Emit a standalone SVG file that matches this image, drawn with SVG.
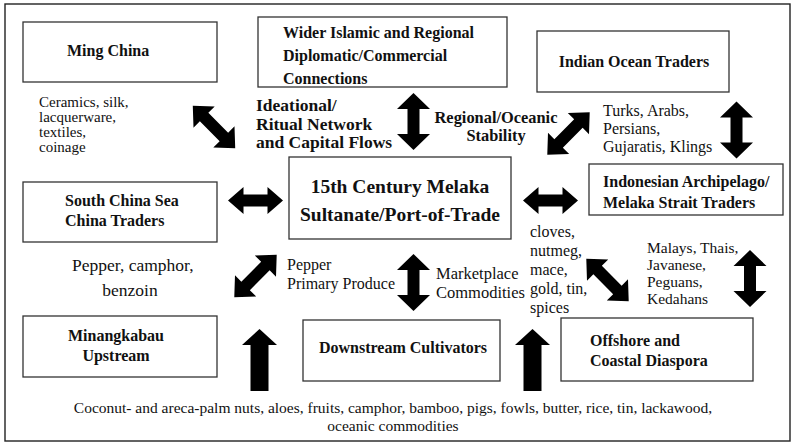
<svg xmlns="http://www.w3.org/2000/svg" width="794" height="445" viewBox="0 0 794 445">
<style>
.frame{fill:#fff;stroke:#222;stroke-width:1.4}
.box{fill:#fff;stroke:#333;stroke-width:1.3}
.arr{fill:#000}
text{font-family:"Liberation Serif","Times New Roman",serif;fill:#111}
.b{font-weight:bold;font-size:16px}
.r{font-size:16px}
</style>
<defs>
<path id="dv" d="M-28.5,0 L-12.5,-16.5 L-12.5,-6 L12.5,-6 L12.5,-16.5 L28.5,0 L12.5,16.5 L12.5,6 L-12.5,6 L-12.5,16.5 Z"/>
<path id="dh" d="M-27.5,0 L-12,-13.5 L-12,-6 L12,-6 L12,-13.5 L27.5,0 L12,13.5 L12,6 L-12,6 L-12,13.5 Z"/>
<path id="dd" d="M-30,0 L-14,-15 L-14,-6 L14,-6 L14,-15 L30,0 L14,15 L14,6 L-14,6 L-14,15 Z"/>
<path id="up" d="M0,0 L17.5,16 L9,16 L9,62 L-9,62 L-9,16 L-17.5,16 Z"/>
</defs>
<rect class="frame" x="5" y="4" width="785" height="437"/>

<g id="ming-china">
<rect class="box" x="23" y="22" width="194" height="60"/>
<text class="b" x="67" y="56">Ming China</text>
</g>
<g id="wider-islamic">
<rect class="box" x="258" y="17" width="249" height="70"/>
<text class="b" x="283" y="38">Wider Islamic and Regional</text>
<text class="b" x="283" y="61">Diplomatic/Commercial</text>
<text class="b" x="283" y="84">Connections</text>
</g>
<g id="indian-ocean-traders">
<rect class="box" x="537" y="31" width="192" height="61"/>
<text class="b" x="634" y="67" text-anchor="middle">Indian Ocean Traders</text>
</g>
<g id="melaka">
<rect class="box" x="289" y="157" width="222" height="82"/>
<text class="b" x="400" y="193" text-anchor="middle" style="font-size:19.5px">15th Century Melaka</text>
<text class="b" x="400" y="221" text-anchor="middle" style="font-size:19.5px">Sultanate/Port-of-Trade</text>
</g>
<g id="south-china-sea">
<rect class="box" x="23" y="182" width="194" height="60"/>
<text class="b" x="65" y="206">South China Sea</text>
<text class="b" x="65" y="226">China Traders</text>
</g>
<g id="indonesian">
<rect class="box" x="589" y="164" width="194" height="51"/>
<text class="b" x="603" y="187">Indonesian Archipelago/</text>
<text class="b" x="603" y="208">Melaka Strait Traders</text>
</g>
<g id="minangkabau">
<rect class="box" x="23" y="316" width="194" height="61"/>
<text class="b" x="116" y="341" text-anchor="middle">Minangkabau</text>
<text class="b" x="116" y="361" text-anchor="middle">Upstream</text>
</g>
<g id="downstream">
<rect class="box" x="303" y="320" width="197" height="61"/>
<text class="b" x="403" y="353" text-anchor="middle">Downstream Cultivators</text>
</g>
<g id="offshore">
<rect class="box" x="561" y="318" width="192" height="63"/>
<text class="b" x="590" y="346">Offshore and</text>
<text class="b" x="590" y="366">Coastal Diaspora</text>
</g>

<g id="connectors">
<use href="#dd" class="arr" transform="translate(214,127) rotate(45)"/>
<use href="#dv" class="arr" transform="translate(413.5,121.5) rotate(90)"/>
<use href="#dd" class="arr" transform="translate(568.5,133.5) rotate(-45)"/>
<use href="#dv" class="arr" transform="translate(736.5,130) rotate(90)"/>
<use href="#dh" class="arr" transform="translate(255.5,200.5)"/>
<use href="#dh" class="arr" transform="translate(550.5,200.5)"/>
<use href="#dd" class="arr" transform="translate(255.5,276) rotate(-45)"/>
<use href="#dv" class="arr" transform="translate(413.5,282.5) rotate(90)"/>
<use href="#dd" class="arr" transform="translate(607.5,280) rotate(45)"/>
<use href="#dv" class="arr" transform="translate(750,278.5) rotate(90)"/>
<use href="#up" class="arr" transform="translate(259.5,329)"/>
<use href="#up" class="arr" transform="translate(532.5,329)"/>
</g>

<g id="labels">
<text class="r" x="39" y="107" style="font-size:15px">Ceramics, silk,</text>
<text class="r" x="39" y="122" style="font-size:15px">lacquerware,</text>
<text class="r" x="39" y="137" style="font-size:15px">textiles,</text>
<text class="r" x="39" y="152" style="font-size:15px">coinage</text>

<text class="b" x="256" y="111" style="font-size:17.5px">Ideational/</text>
<text class="b" x="256" y="130" style="font-size:17.5px">Ritual Network</text>
<text class="b" x="256" y="148" style="font-size:17.5px">and Capital Flows</text>

<text class="b" x="496" y="123" text-anchor="middle" style="font-size:16.4px">Regional/Oceanic</text>
<text class="b" x="496" y="141" text-anchor="middle" style="font-size:16.4px">Stability</text>

<text class="r" x="603" y="116">Turks, Arabs,</text>
<text class="r" x="603" y="134">Persians,</text>
<text class="r" x="603" y="152">Gujaratis, Klings</text>

<text class="r" x="72" y="271" style="font-size:17.5px">Pepper, camphor,</text>
<text class="r" x="130" y="296" text-anchor="middle" style="font-size:17.5px">benzoin</text>

<text class="r" x="287" y="270">Pepper</text>
<text class="r" x="287" y="289">Primary Produce</text>

<text class="r" x="436" y="279" style="font-size:16.5px">Marketplace</text>
<text class="r" x="436" y="298" style="font-size:16.5px">Commodities</text>

<text class="r" x="530" y="237">cloves,</text>
<text class="r" x="530" y="256">nutmeg,</text>
<text class="r" x="530" y="275">mace,</text>
<text class="r" x="530" y="294">gold, tin,</text>
<text class="r" x="530" y="313">spices</text>

<text class="r" x="647" y="253" style="font-size:15.5px">Malays, Thais,</text>
<text class="r" x="647" y="270" style="font-size:15.5px">Javanese,</text>
<text class="r" x="647" y="287" style="font-size:15.5px">Peguans,</text>
<text class="r" x="647" y="304" style="font-size:15.5px">Kedahans</text>

<text class="r" x="393" y="413" text-anchor="middle" style="font-size:15.5px">Coconut- and areca-palm nuts, aloes, fruits, camphor, bamboo, pigs, fowls, butter, rice, tin, lackawood,</text>
<text class="r" x="393" y="431" text-anchor="middle" style="font-size:15.5px">oceanic commodities</text>
</g>
</svg>
